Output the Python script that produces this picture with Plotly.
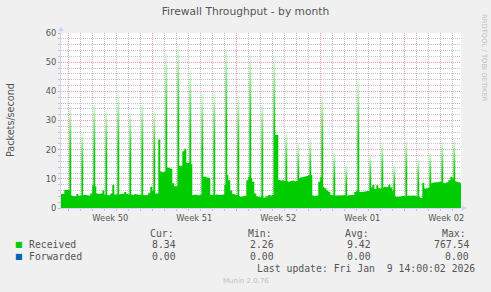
import plotly.graph_objects as go
import pandas as pd

# ---------------- data ----------------
# Received packets/second, 4-hour steps, one row per day (00,04,08,12,16,20h)
received_days = [
    "2025-12-07", "2025-12-08", "2025-12-09", "2025-12-10", "2025-12-11", "2025-12-12",
    "2025-12-13", "2025-12-14", "2025-12-15", "2025-12-16", "2025-12-17", "2025-12-18",
    "2025-12-19", "2025-12-20", "2025-12-21", "2025-12-22", "2025-12-23", "2025-12-24",
    "2025-12-25", "2025-12-26", "2025-12-27", "2025-12-28", "2025-12-29", "2025-12-30",
    "2025-12-31", "2026-01-01", "2026-01-02", "2026-01-03", "2026-01-04", "2026-01-05",
    "2026-01-06", "2026-01-07", "2026-01-08", "2026-01-09",
]
received_base = [
    [4.8, 4.8, 4.8, 4.8, 6.2, 6.2],
    [6.2, 4.3, 4.1, 4.0, 4.8, 4.2],
    [4.3, 4.5, 4.5, 4.4, 4.3, 5.0],
    [8.0, 7.5, 5.0, 4.8, 5.0, 6.0],
    [4.6, 4.5, 4.4, 5.0, 7.9, 4.6],
    [4.7, 4.6, 4.8, 4.9, 5.5, 4.8],
    [4.6, 4.7, 4.5, 4.8, 4.6, 4.5],
    [4.6, 4.5, 4.4, 4.5, 5.2, 7.3],
    [6.0, 5.0, 5.0, 23.5, 12.5, 12.3],
    [12.5, 13.8, 13.8, 13.5, 8.5, 7.5],
    [7.5, 14.5, 14.5, 19.5, 20.3, 15.5],
    [15.5, 15.0, 4.5, 4.6, 4.5, 4.4],
    [4.6, 10.7, 10.7, 10.5, 10.3, 4.5],
    [4.5, 4.5, 4.6, 4.5, 4.5, 4.6],
    [8.0, 11.3, 9.5, 6.0, 4.8, 4.6],
    [4.5, 4.0, 3.9, 4.0, 4.2, 9.5],
    [10.7, 10.3, 9.0, 5.0, 4.0, 3.8],
    [3.7, 3.6, 3.6, 4.0, 4.5, 4.3],
    [4.5, 25.0, 25.0, 9.6, 9.4, 9.5],
    [9.3, 9.2, 9.0, 9.3, 9.4, 9.2],
    [9.3, 10.3, 10.5, 10.6, 10.8, 11.0],
    [11.3, 11.3, 4.3, 4.1, 4.3, 9.0],
    [10.7, 7.3, 6.8, 6.0, 5.6, 4.5],
    [4.4, 4.3, 4.3, 4.4, 4.3, 4.4],
    [4.4, 4.3, 4.4, 4.5, 4.5, 5.5],
    [6.0, 5.6, 5.5, 5.6, 5.7, 5.8],
    [5.8, 7.0, 7.9, 6.5, 7.8, 6.8],
    [6.7, 7.0, 7.3, 7.2, 8.0, 7.0],
    [6.0, 4.0, 3.9, 3.9, 4.0, 4.1],
    [4.0, 4.2, 4.3, 4.2, 4.3, 4.2],
    [4.0, 3.9, 3.4, 8.6, 6.7, 6.8],
    [7.0, 8.5, 8.7, 8.8, 8.8, 9.0],
    [9.0, 8.6, 8.5, 8.8, 9.5, 10.7],
    [10.2, 9.2, 9.0, 8.8, 8.5, 8.3],
]
base_hours = [0, 4, 8, 12, 16, 20]

# daily 04:00 spikes (visible peak height)
spike_days = received_days[1:]
spike_hour = 4
spike_peaks = [35, 26, 36, 33.6, 39.3, 32.8, 36, 33.6, 53, 56, 47.5, 39.4, 40, 55,
               38.7, 53, 36, 52, 26, 22.3, 24, 38.7, 19.3, 14.7, 44, 18.2, 22.2,
               14.7, 23, 17, 19, 22.7, 23.5]

legend_names = ["Received", "Forwarded"]
legend_colors = ["#00CC00", "#0066B3"]
stat_headers = ["Cur:", "Min:", "Avg:", "Max:"]
stat_values = [["8.34", "2.26", "9.42", "767.54"],
               ["0.00", "0.00", "0.00", "0.00"]]
title_text = "Firewall Throughput - by month"
y_title = "Packets/second"
last_update = "Last update: Fri Jan  9 14:00:02 2026"
munin_version = "Munin 2.0.76"
watermark = "RRDTOOL / TOBI OETIKER"
x_range = ["2025-12-07 09:24", "2026-01-09 17:24"]
week_start = "2025-12-08"

# ---------------- build ----------------
xs, ys = [], []
for d, row in zip(received_days, received_base):
    for h, v in zip(base_hours, row):
        xs.append(pd.Timestamp(d) + pd.Timedelta(hours=h))
        ys.append(v)
xs.append(xs[-1] + pd.Timedelta(hours=4))
ys.append(ys[-1])

GREEN = legend_colors[0]
AXIS = "#CFD6F8"
GRID = "#C4C4C4"
MGRID = "#F0A0A0"
FONT = "#555555"

fig = go.Figure()
fig.add_trace(go.Scatter(x=xs, y=ys, mode="lines", line=dict(shape="hv", width=0, color=GREEN),
                         fill="tozeroy", fillcolor=GREEN, hoverinfo="skip"))

half = pd.Timedelta(minutes=110)
for d, v in zip(spike_days, spike_peaks):
    t = pd.Timestamp(d) + pd.Timedelta(hours=spike_hour)
    fig.add_trace(go.Scatter(
        x=[t - half, t - half, t + half, t + half], y=[0, v, v, 0],
        mode="lines", line=dict(width=0, color=GREEN), fill="toself",
        fillgradient=dict(type="vertical",
                          colorscale=[[0, "rgba(0,204,0,1)"], [0.5, "rgba(0,204,0,1)"],
                                      [0.75, "rgba(0,204,0,0.6)"],
                                      [1, "rgba(0,204,0,0.08)"]]),
        hoverinfo="skip"))

# pixel helpers (plot area 61..461 x, 33..208 y)
PL, PR, PT, PB = 61, 461, 33, 208
def px(x):
    return (x - PL) / (PR - PL)
def py(y):
    return (PB - y) / (PB - PT)

fig.update_layout(
    width=491, height=292,
    margin=dict(l=PL, r=491 - PR, t=PT, b=292 - PB),
    paper_bgcolor="#F0F0F0", plot_bgcolor="#FFFFFF",
    showlegend=False,
    font=dict(family="DejaVu Sans", size=8, color=FONT),
    title=dict(text=title_text, x=0.5, xref="container", xanchor="center",
               y=1 - 11.5 / 292, yref="container", yanchor="middle",
               font=dict(size=10.7, color=FONT, family="DejaVu Sans")),
)
fig.update_xaxes(
    type="date", range=x_range, showline=True, linecolor=AXIS, linewidth=1,
    tickformat="Week %V", ticklabelmode="period", dtick=7 * 86400000, tick0=week_start,
    showgrid=True, gridcolor=MGRID, griddash="1px,1px", gridwidth=1,
    ticks="outside", ticklen=2, tickcolor=MGRID,
    minor=dict(dtick=86400000, tick0=week_start, showgrid=True, gridcolor=GRID,
               griddash="1px,1px", ticks="outside", ticklen=2, tickcolor=GRID),
    tickfont=dict(size=8.3, color=FONT), zeroline=False, fixedrange=True,
)
fig.update_yaxes(
    range=[0, 60], dtick=10, tick0=0, showline=True, linecolor=AXIS, linewidth=1,
    showgrid=True, gridcolor=MGRID, griddash="1px,1px",
    ticks="outside", ticklen=2, tickcolor=MGRID,
    minor=dict(dtick=2, showgrid=True, gridcolor=GRID, griddash="1px,1px",
               ticks="outside", ticklen=2, tickcolor=GRID),
    tickfont=dict(size=8.3, color=FONT), zeroline=False, fixedrange=True,
)

# axis extensions + arrows
fig.add_shape(type="line", xref="paper", yref="paper", x0=0, x1=0, y0=1, y1=py(29),
              line=dict(color=AXIS, width=1))
fig.add_shape(type="line", xref="paper", yref="paper", x0=1, x1=px(464), y0=0, y1=0,
              line=dict(color=AXIS, width=1))
fig.add_shape(type="path", xref="paper", yref="paper",
              path=f"M {px(58)} {py(31)} L {px(64)} {py(31)} L {px(61)} {py(26)} Z",
              fillcolor=AXIS, line=dict(width=0))
fig.add_shape(type="path", xref="paper", yref="paper",
              path=f"M {px(462)} {py(205)} L {px(462)} {py(211)} L {px(467)} {py(208)} Z",
              fillcolor=AXIS, line=dict(width=0))

def ann(x, y, text, size=9.8, color=FONT, family="DejaVu Sans Mono", xanchor="left", angle=0):
    fig.add_annotation(x=px(x), y=py(y), xref="paper", yref="paper", text=text,
                       showarrow=False, xanchor=xanchor, yanchor="middle", textangle=angle,
                       font=dict(size=size, color=color, family=family))

ann(10.5, 120.5, y_title, size=9.6, family="DejaVu Sans", xanchor="center", angle=-90)
ann(484, 58, watermark, size=6.8, color="#BDBDBD", family="DejaVu Sans", xanchor="center", angle=90)

header_x = [148, 246, 343, 440]
value_right = [177.7, 276, 372.7, 471]
for hx, h in zip(header_x, stat_headers):
    ann(hx, 233, h)
for i, (name, col, vals) in enumerate(zip(legend_names, legend_colors, stat_values)):
    yy = 244.5 + 11.7 * i
    ann(12.5, yy, "■", size=8, color=col, family="DejaVu Sans")
    ann(26.5, yy, name)
    for vr, v in zip(value_right, vals):
        ann(vr, yy, v, xanchor="right")
ann(477, 268.5, last_update, xanchor="right")
ann(245.5, 281, munin_version, size=7, color="#C0C0C0", family="DejaVu Sans", xanchor="center")

fig.write_html("out.html")
